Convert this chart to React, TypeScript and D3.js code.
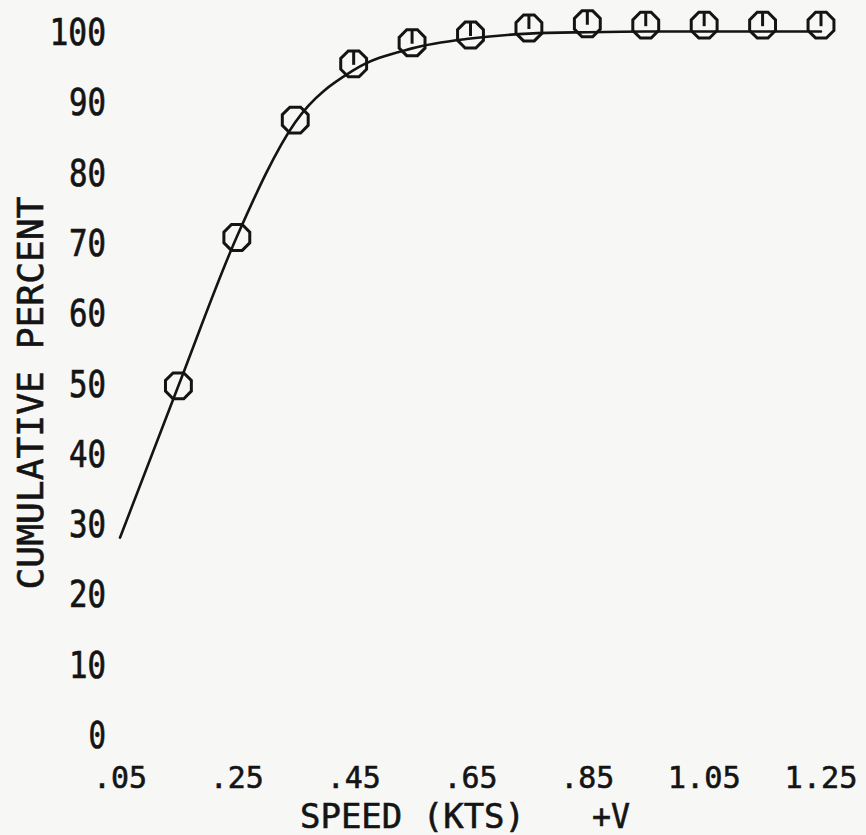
import React from 'react'
import * as d3 from 'd3'

const W = 866
const H = 835

// plotted observations: speed (kts) vs cumulative percent
const speeds = [0.15, 0.25, 0.35, 0.45, 0.55, 0.65, 0.75, 0.85, 0.95, 1.05, 1.15, 1.25]
const cumPercent = [49.6, 70.7, 87.4, 95.4, 98.4, 99.5, 100.5, 101.1, 100.9, 100.9, 100.9, 100.9]

// fitted curve drawn through the observations
const curveSpeeds = [0.05, 0.15, 0.25, 0.35, 0.45, 0.55, 0.65, 0.75, 0.85, 0.95, 1.05, 1.15, 1.25]
const curvePercent = [28.0, 49.6, 70.8, 87.1, 94.5, 97.6, 99.0, 99.7, 99.9, 100, 100, 100, 100]

const xTicks = [0.05, 0.25, 0.45, 0.65, 0.85, 1.05, 1.25]
const xTickLabels = ['.05', '.25', '.45', '.65', '.85', '1.05', '1.25']
const yTicks = [0, 10, 20, 30, 40, 50, 60, 70, 80, 90, 100]

const INK = '#141414'
const FONT = '"DejaVu Sans Mono", "Liberation Mono", monospace'

function octagon(cx: number, cy: number, r: number) {
  const pts = d3.range(8).map(i => {
    const a = Math.PI / 8 + (i * Math.PI) / 4
    return [cx + r * Math.cos(a), cy + r * Math.sin(a)] as [number, number]
  })
  return 'M' + pts.map(p => p.join(',')).join('L') + 'Z'
}

export default function App() {
  const x = d3.scaleLinear().domain([0.05, 1.25]).range([120, 821])
  const y = d3.scaleLinear().domain([0, 100]).range([734.5, 31.5])

  const line = d3.line<number>()
    .x((_, i) => x(curveSpeeds[i]))
    .y(d => y(d))
    .curve(d3.curveMonotoneX)

  const r = 14

  return (
    <svg
      width={W}
      height={H}
      style={{ position: 'absolute', left: 0, top: 0, background: '#f7f7f5' }}
    >
      {/* y tick labels */}
      <g fill={INK} stroke={INK} strokeWidth={0.7} fontFamily={FONT} fontSize={37}>
        {yTicks.map(t => (
          <text
            key={t}
            x={106}
            y={y(t) + 13.5}
            textAnchor="end"
            textLength={String(t).length * 19.5 - 2}
            lengthAdjust="spacingAndGlyphs"
          >
            {t}
          </text>
        ))}
      </g>

      {/* x tick labels */}
      <g fill={INK} stroke={INK} strokeWidth={0.6} fontFamily={FONT} fontSize={31}>
        {xTicks.map((t, i) => (
          <text
            key={t}
            x={x(t)}
            y={788}
            textAnchor="middle"
            textLength={xTickLabels[i].length * 19 - 3}
            lengthAdjust="spacingAndGlyphs"
          >
            {xTickLabels[i]}
          </text>
        ))}
      </g>

      {/* axis titles */}
      <g fill={INK} stroke={INK} strokeWidth={0.6} fontFamily={FONT}>
        <text
          x={0}
          y={0}
          fontSize={35}
          textAnchor="middle"
          textLength={393}
          lengthAdjust="spacingAndGlyphs"
          transform="translate(43,393) rotate(-90)"
        >
          CUMULATIVE PERCENT
        </text>
        <text x={300} y={828} fontSize={34} textLength={225} lengthAdjust="spacingAndGlyphs">
          SPEED (KTS)
        </text>
        <text x={592} y={828} fontSize={34} textLength={38} lengthAdjust="spacingAndGlyphs">
          +V
        </text>
      </g>

      {/* fitted curve */}
      <path d={line(curvePercent) ?? ''} fill="none" stroke={INK} strokeWidth={2.6} strokeLinejoin="round" strokeLinecap="round" />

      {/* observation markers */}
      <g fill="none" stroke={INK} strokeWidth={3}>
        {speeds.map((s, i) => {
          const cx = x(s)
          const cy = y(cumPercent[i])
          return (
            <g key={s}>
              <path d={octagon(cx, cy, r)} />
              {s >= 0.45 && <line x1={cx} y1={cy - r + 2} x2={cx} y2={cy + 1} />}
            </g>
          )
        })}
      </g>
    </svg>
  )
}
